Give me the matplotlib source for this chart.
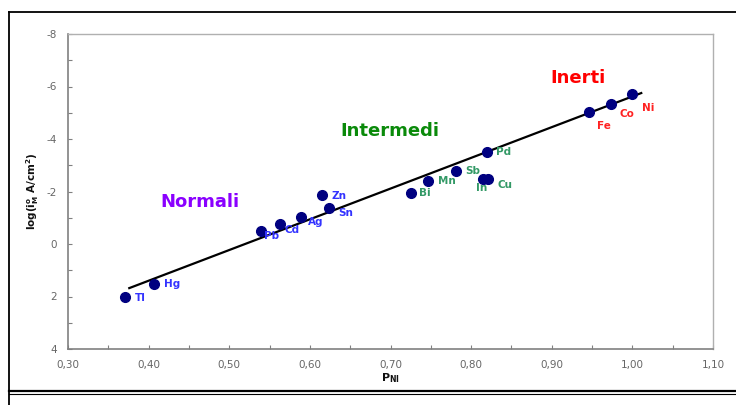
import matplotlib
matplotlib.use("Agg")
import matplotlib.pyplot as plt
from matplotlib.lines import Line2D
from matplotlib.ticker import FixedLocator, FuncFormatter

metals = ["Tl", "Hg", "Pb", "Cd", "Ag", "Zn", "Sn", "Bi", "Mn", "Sb", "In", "Cu", "Pd", "Fe", "Co", "Ni"]
p_ni = [0.371, 0.407, 0.539, 0.563, 0.589, 0.615, 0.624, 0.726, 0.747, 0.781, 0.815, 0.821, 0.820, 0.946, 0.973, 0.999]
log_i = [2.02, 1.52, -0.50, -0.76, -1.03, -1.87, -1.37, -1.94, -2.40, -2.78, -2.48, -2.48, -3.50, -5.03, -5.33, -5.71]
groups = ["N", "N", "N", "N", "N", "N", "N", "I", "I", "I", "I", "I", "I", "R", "R", "R"]
fit_x = [0.376, 1.011]
fit_y = [1.68, -5.75]
group_names = {"N": "Normali", "I": "Intermedi", "R": "Inerti"}
group_title_pos = {"N": (0.464, -1.6), "I": (0.699, -4.3), "R": (0.933, -6.32)}

label_colors = {"N": "#3333ff", "I": "#339966", "R": "#ff2222"}
title_colors = {"N": "#8a00ff", "I": "#0a8a0a", "R": "#ff0000"}
# label offsets in pixels (dx, dy) relative to point
offsets = {"Tl": (10, -1), "Hg": (10, 0), "Pb": (3, -5), "Cd": (4, -6), "Ag": (7, -5),
           "Zn": (10, -1), "Sn": (9, -5), "Bi": (8, 0), "Mn": (10, 0), "Sb": (9, 0),
           "In": (-7, -9), "Cu": (9, -6), "Pd": (9, 0), "Fe": (8, -14), "Co": (9, -10),
           "Ni": (10, -14)}

W, H = 736, 405
fig = plt.figure(figsize=(W / 100, H / 100), dpi=100)
ax = fig.add_axes([68 / W, 1 - 349 / H, (713 - 68) / W, (349 - 34) / H])

ax.plot(fit_x, fit_y, color="black", lw=1.6, zorder=2)
ax.plot(p_ni, log_i, "o", color="#000080", ms=7.0, mec="#000080", zorder=3, ls="none")

for m, x, y, g in zip(metals, p_ni, log_i, groups):
    dx, dy = offsets[m]
    ax.annotate(m, (x, y), xytext=(dx * 0.72, dy * 0.72), textcoords="offset points",
                color=label_colors[g], fontsize=7.5, fontweight="bold",
                ha="left", va="center", zorder=4)

for g, name in group_names.items():
    tx, ty = group_title_pos[g]
    ax.text(tx, ty, name, color=title_colors[g], fontsize=13, fontweight="bold",
            ha="center", va="center", family="DejaVu Sans")

ax.set_xlim(0.30, 1.10)
ax.set_ylim(4, -8)
ax.xaxis.set_major_locator(FixedLocator([0.3 + 0.1 * i for i in range(9)]))
ax.xaxis.set_minor_locator(FixedLocator([0.35 + 0.1 * i for i in range(8)]))
ax.yaxis.set_major_locator(FixedLocator([-8, -6, -4, -2, 0, 2, 4]))
ax.yaxis.set_minor_locator(FixedLocator([-7, -5, -3, -1, 1, 3]))
ax.xaxis.set_major_formatter(FuncFormatter(lambda v, p: f"{v:.2f}".replace(".", ",")))
ax.yaxis.set_major_formatter(FuncFormatter(lambda v, p: f"{int(round(v))}"))
ax.tick_params(which="both", direction="in", colors="#808080", labelcolor="#666666",
               labelsize=7.5, length=3, width=0.8)
ax.tick_params(axis="x", pad=8)
ax.tick_params(axis="y", pad=8)
for s in ["left", "bottom"]:
    ax.spines[s].set_color("#808080")
    ax.spines[s].set_linewidth(1.2)
for s in ["top", "right"]:
    ax.spines[s].set_color("#b0b0b0")
    ax.spines[s].set_linewidth(1.0)

ax.set_xlabel(r"$\mathbf{P}_{\mathbf{NI}}$", fontsize=8, labelpad=1, color="#111111")
ax.set_ylabel(r"$\mathbf{log(i^{o}_{M}\ A/cm^{2})}$", fontsize=7.5, color="#111111")
ax.yaxis.set_label_coords(-0.042, 0.5)

# outer frame
def fl(x0, y0, x1, y1, lw):
    fig.add_artist(Line2D([x0 / W, x1 / W], [1 - y0 / H, 1 - y1 / H], color="black", lw=lw,
                          transform=fig.transFigure))

fl(9, 12, 736, 12, 1.3)
fl(9, 12, 9, 405, 1.3)
fl(9, 391, 736, 391, 1.6)
fl(9, 394, 736, 394, 0.8)

fig.savefig("out.png", dpi=100)
